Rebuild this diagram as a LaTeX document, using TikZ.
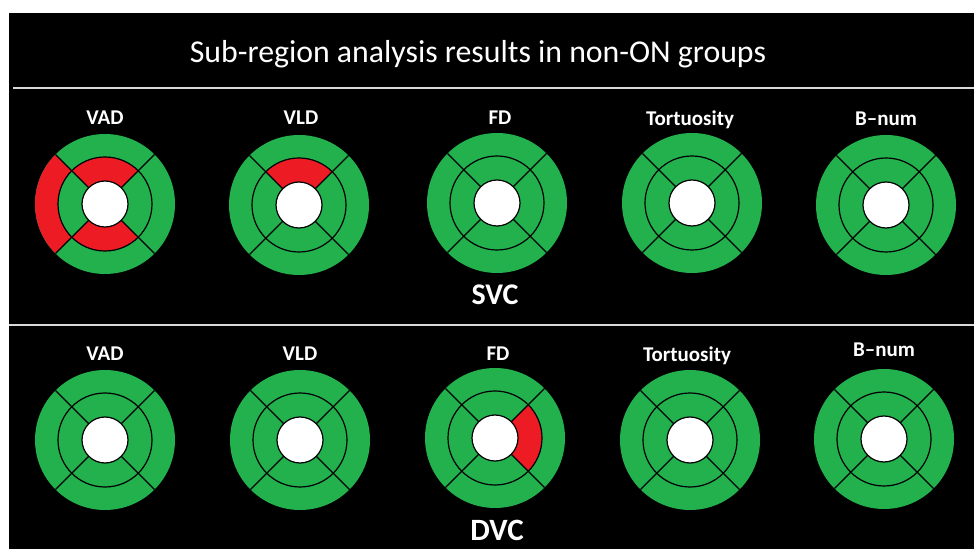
\documentclass[tikz,border=0pt]{standalone}
\usepackage{fontspec}
\setmainfont{Carlito}
\definecolor{segGreen}{HTML}{22B14C}
\definecolor{segRed}{HTML}{ED1C24}
\definecolor{ruleGray}{HTML}{D9D9D9}
\tikzset{
  lbl/.style={text=white, font=\bfseries\fontsize{21}{25}\selectfont, anchor=base, inner sep=0pt},
  grp/.style={text=white, font=\bfseries\fontsize{30}{34}\selectfont, anchor=base, inner sep=0pt},
  sep/.style={ruleGray, line width=1.6pt},
  segline/.style={draw=black, line width=1.2pt}
}
% \bullseye{cx}{cy}{list of red segments rin/rout/a1/a2}
\newcommand\bullseye[3]{%
  \begin{scope}[shift={(#1,#2)}]
    \fill[segGreen] (0,0) circle (70);
    \foreach \ri/\ro/\aa/\ab in {#3} {
      \fill[segRed] (\aa:\ro) arc[start angle=\aa, end angle=\ab, radius=\ro]
        -- (\ab:\ri) arc[start angle=\ab, end angle=\aa, radius=\ri] -- cycle;
    }
    \draw[segline] (0,0) circle (47);
    \foreach \a in {45,135,225,315} \draw[segline] (\a:23) -- (\a:70);
    \draw[segline, fill=white] (0,0) circle (23);
  \end{scope}}
\begin{document}
\begin{tikzpicture}[x=1pt, y=1pt]
  \useasboundingbox (0,0) rectangle (974,549);
  \fill[white] (0,0) rectangle (974,549);
  \fill[black] (9,0) rectangle (974,536);

  % title and separators
  \node[text=white, font=\fontsize{31.8}{38}\selectfont, anchor=base, inner sep=0pt] (title) at (478,486) {Sub-region analysis results in non-ON groups};
  \draw[sep] (13,461) -- (974,461);
  \draw[sep] (9,224) -- (974,224);

  % superficial plexus row
  \bullseye{105}{345}{47/70/135/225, 23/47/45/135, 23/47/225/315}
  \bullseye{299}{344}{23/47/45/135}
  \bullseye{497}{346}{}
  \bullseye{692}{346}{}
  \bullseye{886}{344}{}
  \node[lbl] (svad) at (105,424) {VAD};
  \node[lbl] (svld) at (301,424) {VLD};
  \node[lbl] (sfd) at (500,424) {FD};
  \node[lbl] (stor) at (690,423) {Tortuosity};
  \node[lbl] (sbn) at (886,423) {B–num};
  \node[grp] (svc) at (495,244) {SVC};

  % deep plexus row
  \bullseye{105}{109}{}
  \bullseye{300}{109}{}
  \bullseye{495}{111}{23/47/-45/45}
  \bullseye{690}{109}{}
  \bullseye{884}{110}{}
  \node[lbl] (dvad) at (105,188) {VAD};
  \node[lbl] (dvld) at (300,188) {VLD};
  \node[lbl] (dfd) at (498,188) {FD};
  \node[lbl] (dtor) at (687,187) {Tortuosity};
  \node[lbl] (dbn) at (884,192) {B–num};
  \node[grp, font=\bfseries\fontsize{31}{36}\selectfont] (dvc) at (497,9) {DVC};
\end{tikzpicture}
\end{document}
